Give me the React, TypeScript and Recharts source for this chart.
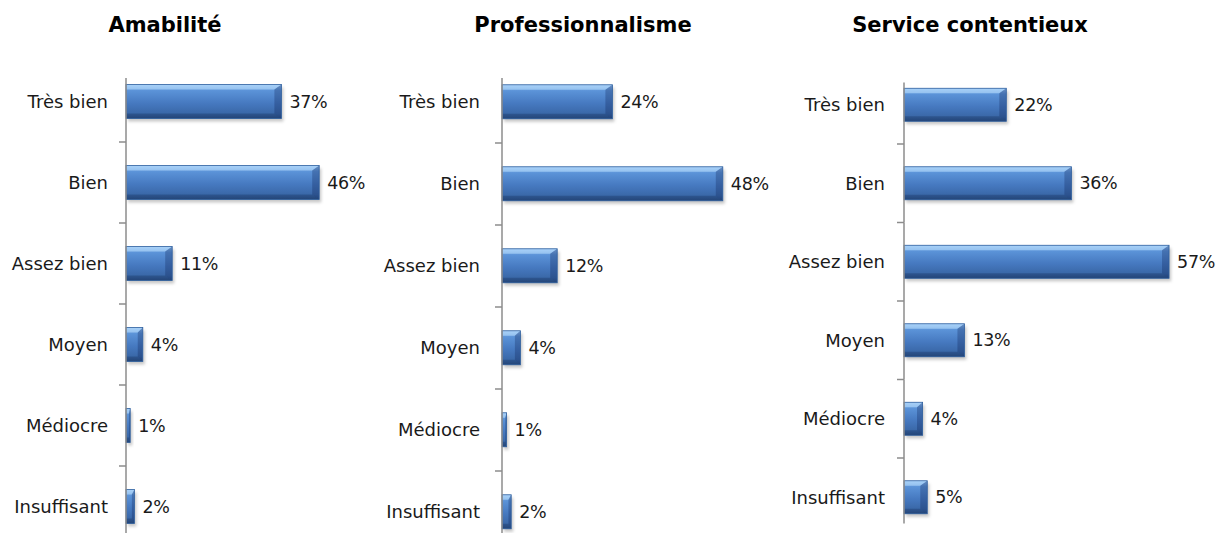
import React from 'react';
import { BarChart, Bar, XAxis, YAxis, LabelList } from 'recharts';

const categories = ['Très bien', 'Bien', 'Assez bien', 'Moyen', 'Médiocre', 'Insuffisant'];
const amabilite = [37, 46, 11, 4, 1, 2];
const professionnalisme = [24, 48, 12, 4, 1, 2];
const contentieux = [22, 36, 57, 13, 4, 5];
const titles = ['Amabilité', 'Professionnalisme', 'Service contentieux'];

const FONT = '"DejaVu Sans", sans-serif';
const TEXT = '#1a1a1a';
const AXIS = '#8c8c8c';

const BevelBar = (props: any) => {
  const { x, y, width, height } = props;
  if (!width || width <= 0) return null;
  const cap = Math.min(7, width * 0.3);
  const edge = Math.min(5, height * 0.16);
  const r = x + width;
  const b = y + height;
  return (
    <g>
      <rect x={x + 2} y={y + 3} width={width} height={height} fill="rgba(0,0,0,0.22)" filter="url(#barShadow)" />
      <rect x={x} y={y} width={width} height={height} fill="url(#barFace)" />
      <polygon points={`${x},${y} ${r},${y} ${r - cap},${y + edge} ${x},${y + edge}`} fill="rgba(190,225,255,0.55)" />
      <polygon points={`${x},${b} ${r},${b} ${r - cap},${b - edge} ${x},${b - edge}`} fill="rgba(10,30,70,0.25)" />
      <polygon points={`${r - cap},${y + edge} ${r},${y} ${r},${b} ${r - cap},${b - edge}`} fill="rgba(10,30,80,0.28)" />
      <rect x={x} y={y} width={width} height={height} fill="none" stroke="#2f5f9e" strokeWidth={0.8} />
    </g>
  );
};

const makeTick = (gap: number, band: number, n: number) => (props: any) => {
  const { x, y, payload, index } = props;
  const ax = x + gap;
  const top = index === 0 ? y - band / 2 + 17 : y - band / 2;
  const bottom = index === n - 1 ? y + band / 2 - 13 : y + band / 2;
  return (
    <g>
      <line x1={ax} x2={ax} y1={top} y2={bottom} stroke={AXIS} strokeWidth={1.5} />
      {index < n - 1 && (
        <line x1={ax - 7} x2={ax} y1={y + band / 2} y2={y + band / 2} stroke={AXIS} strokeWidth={1.5} />
      )}
      <text x={x} y={y} dy="0.35em" textAnchor="end" fill={TEXT} fontSize={18} fontFamily={FONT}>
        {payload.value}
      </text>
    </g>
  );
};

interface PanelProps {
  left: number;
  width: number;
  axisX: number;
  top: number;
  band: number;
  max: number;
  scale: number;
  gap: number;
  values: number[];
}

const Panel = ({ left, width, axisX, top, band, max, scale, gap, values }: PanelProps) => {
  const data = categories.map((c, i) => ({ name: c, value: values[i] }));
  const height = top + band * categories.length + 10;
  const plotW = max * scale;
  const yWidth = axisX - left;
  const right = width - yWidth - plotW;
  const Tick = makeTick(gap, band, categories.length);
  return (
    <div style={{ position: 'absolute', left, top: 0 }}>
      <BarChart
        layout="vertical"
        width={width}
        height={height}
        data={data}
        margin={{ top, right, bottom: 10, left: 0 }}
        barCategoryGap="29%"
      >
        <defs>
          <linearGradient id="barFace" x1="0" y1="0" x2="0" y2="1">
            <stop offset="0" stopColor="#8fbdf0" />
            <stop offset="0.18" stopColor="#5b93d8" />
            <stop offset="0.55" stopColor="#4679c0" />
            <stop offset="0.85" stopColor="#3a68a8" />
            <stop offset="1" stopColor="#2c5288" />
          </linearGradient>
          <filter id="barShadow" x="-20%" y="-20%" width="140%" height="160%">
            <feGaussianBlur stdDeviation="1.5" />
          </filter>
        </defs>
        <XAxis type="number" domain={[0, max]} hide />
        <YAxis
          type="category"
          dataKey="name"
          width={yWidth}
          axisLine={false}
          tickLine={false}
          tickSize={0}
          tickMargin={gap}
          interval={0}
          tick={<Tick />}
        />
        <Bar dataKey="value" shape={BevelBar} isAnimationActive={false}>
          <LabelList
            dataKey="value"
            position="right"
            offset={8}
            formatter={(v: any) => `${v}%`}
            fill={TEXT}
            fontSize={17.5}
            letterSpacing={-0.3}
            fontFamily={FONT}
          />
        </Bar>
      </BarChart>
    </div>
  );
};

const titleCenters = [165, 583, 970];

export default function App() {
  return (
    <div
      style={{
        position: 'fixed',
        left: 0,
        top: 0,
        width: 1220,
        height: 533,
        overflow: 'hidden',
        background: '#ffffff',
      }}
    >
      {titles.map((t, i) => (
        <div
          key={t}
          style={{
            position: 'absolute',
            left: titleCenters[i] - 150,
            width: 300,
            top: 12,
            lineHeight: '26px',
            textAlign: 'center',
            fontFamily: FONT,
            fontWeight: 'bold',
            fontSize: 21,
            color: '#000',
          }}
        >
          {t}
        </div>
      ))}
      <Panel left={0} width={380} axisX={126} top={61} band={81} max={50} scale={4.2} gap={18} values={amabilite} />
      <Panel left={380} width={400} axisX={502} top={61} band={82} max={50} scale={4.6} gap={22} values={professionnalisme} />
      <Panel left={780} width={440} axisX={904} top={65.5} band={78.5} max={60} scale={4.65} gap={19} values={contentieux} />
    </div>
  );
}
